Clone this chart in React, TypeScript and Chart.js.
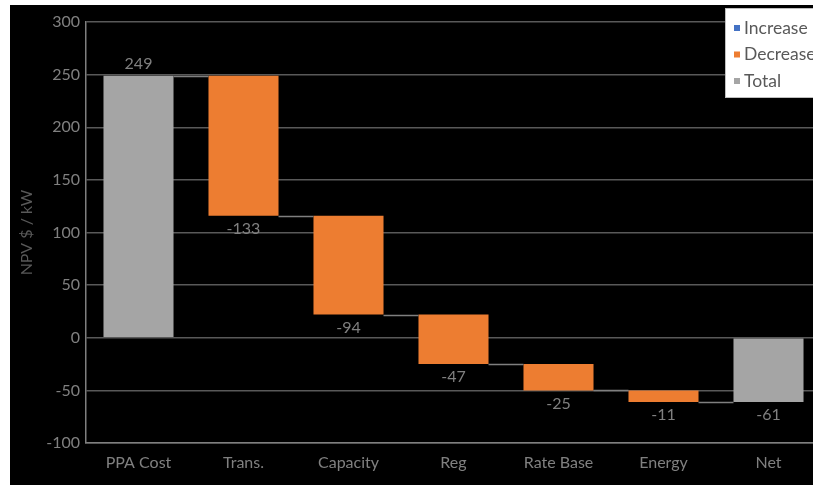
import React, { useEffect, useRef } from "react";
import { Chart, registerables } from "chart.js";

Chart.register(...registerables);

const categories = ["PPA Cost", "Trans.", "Capacity", "Reg", "Rate Base", "Energy", "Net"];
const startTotal = 249;
const steps = [-133, -94, -47, -25, -11];
const netTotal = -61;
const yMin = -100;
const yMax = 300;
const yStep = 50;
const seriesNames = ["Increase", "Decrease", "Total"];
const seriesColors = ["#4472C4", "#ED7D31", "#A5A5A5"];

const FONT = "Lato, 'Noto Sans', sans-serif";
const TEXT = "#808080";

export default function App() {
  const ref = useRef<HTMLCanvasElement>(null);

  useEffect(() => {
    if (!ref.current) return;
    const n = categories.length;
    const increase: any[] = new Array(n).fill(null);
    const decrease: any[] = new Array(n).fill(null);
    const total: any[] = new Array(n).fill(null);
    const labels: number[] = [];
    const levels: number[] = [];
    total[0] = [0, startTotal];
    labels.push(startTotal);
    levels.push(startTotal);
    let run = startTotal;
    steps.forEach((s, i) => {
      const next = run + s;
      if (s < 0) decrease[i + 1] = [run, next];
      else increase[i + 1] = [run, next];
      labels.push(s);
      levels.push(next);
      run = next;
    });
    total[n - 1] = [0, netTotal];
    labels.push(netTotal);
    levels.push(netTotal);

    const waterfallPlugin = {
      id: "waterfall",
      afterDatasetsDraw(chart: any) {
        const ctx = chart.ctx;
        const y = chart.scales.y;
        const bars: any[] = new Array(n).fill(null);
        chart.data.datasets.forEach((ds: any, di: number) => {
          const meta = chart.getDatasetMeta(di);
          meta.data.forEach((el: any, i: number) => {
            if (ds.data[i] != null) bars[i] = el;
          });
        });
        ctx.save();
        ctx.strokeStyle = "#7f7f7f";
        ctx.lineWidth = 1.5;
        for (let i = 0; i < n - 1; i++) {
          const a = bars[i];
          const b = bars[i + 1];
          if (!a || !b) continue;
          const py = Math.round(y.getPixelForValue(levels[i])) + 0.5;
          ctx.beginPath();
          ctx.moveTo(a.x + a.width / 2, py);
          ctx.lineTo(b.x - b.width / 2, py);
          ctx.stroke();
        }
        ctx.fillStyle = TEXT;
        ctx.font = `16px ${FONT}`;
        ctx.textAlign = "center";
        ctx.textBaseline = "middle";
        for (let i = 0; i < n; i++) {
          const el = bars[i];
          if (!el) continue;
          const v = labels[i];
          const top = Math.min(el.y, el.base);
          const bottom = Math.max(el.y, el.base);
          if (v >= 0) ctx.fillText(String(v), el.x, top - 12);
          else ctx.fillText(String(v), el.x, bottom + 13);
        }
        ctx.restore();
      },
      afterDraw(chart: any) {
        const ctx = chart.ctx;
        ctx.save();
        const bx = 715.5;
        const by = 3.5;
        ctx.fillStyle = "#ffffff";
        ctx.strokeStyle = "#bfbfbf";
        ctx.lineWidth = 1;
        ctx.fillRect(bx, by, 120, 89);
        ctx.strokeRect(bx, by, 120, 89);
        ctx.font = `17.5px ${FONT}`;
        ctx.textBaseline = "middle";
        ctx.textAlign = "left";
        chart.data.datasets.forEach((ds: any, i: number) => {
          const cy = 23 + i * 26.5;
          ctx.fillStyle = ds.backgroundColor;
          ctx.fillRect(724, cy - 3, 6, 6);
          ctx.fillStyle = "#595959";
          ctx.fillText(ds.label, 734, cy);
        });
        ctx.restore();
      },
    };

    const chart = new Chart(ref.current, {
      type: "bar",
      data: {
        labels: categories,
        datasets: [
          { label: seriesNames[0], data: increase, backgroundColor: seriesColors[0] },
          { label: seriesNames[1], data: decrease, backgroundColor: seriesColors[1] },
          { label: seriesNames[2], data: total, backgroundColor: seriesColors[2] },
        ] as any,
      },
      options: {
        animation: false,
        responsive: false,
        maintainAspectRatio: false,
        layout: { padding: { left: 0, top: 17, right: 19, bottom: 0 } },
        datasets: {
          bar: { grouped: false, categoryPercentage: 1, barPercentage: 0.667 } as any,
        },
        plugins: {
          legend: { display: false },
          tooltip: { enabled: false },
        },
        scales: {
          x: {
            grid: { display: false, drawTicks: false },
            border: { display: true, color: "#7f7f7f", width: 1.5 },
            ticks: { color: TEXT, font: { family: FONT, size: 16 }, padding: 10, maxRotation: 0 },
            afterFit: (s: any) => {
              s.height = 42;
            },
          },
          y: {
            min: yMin,
            max: yMax,
            ticks: { stepSize: yStep, color: TEXT, font: { family: FONT, size: 16 }, padding: 6 },
            grid: { color: "#595959", lineWidth: 1.5, drawTicks: false },
            border: { display: true, color: "#7f7f7f", width: 1.5 },
            title: {
              display: true,
              text: "NPV $ / kW",
              color: "#595959",
              font: { family: FONT, size: 16 },
              padding: { top: 7, bottom: 0 },
            },
            afterFit: (s: any) => {
              s.width = 76;
            },
          },
        },
      },
      plugins: [waterfallPlugin],
    });
    return () => chart.destroy();
  }, []);

  return (
    <div style={{ position: "fixed", inset: 0, overflow: "hidden", background: "#ffffff" }}>
      <div style={{ position: "absolute", left: 10, top: 5, width: 830, height: 480, background: "#000000" }}>
        <canvas ref={ref} width={830} height={480} style={{ display: "block" }} />
      </div>
    </div>
  );
}
